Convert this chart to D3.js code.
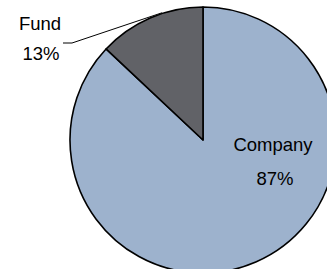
<!DOCTYPE html>
<html>
<head>
<meta charset="utf-8">
<script src="https://cdn.jsdelivr.net/npm/d3@7"></script>
<style>
  body { margin: 0; background: #fff; }
  text { font-family: "Liberation Sans", Arial, sans-serif; font-size: 18.5px; fill: #000; }
</style>
</head>
<body>
<div id="chart"></div>
<script>
var svgWidth = 327;
var svgHeight = 269;

// chart data
var categories = ["Company", "Fund"];
var shares = [87, 13];
var shareLabels = ["87%", "13%"];
var colors = ["#9db2cd", "#616267"];

var cx = 203;
var cy = 140;
var radius = 133;

var svg = d3.select("#chart")
  .append("svg")
  .attr("width", svgWidth)
  .attr("height", svgHeight);

var chartGroup = svg.append("g")
  .attr("transform", `translate(${cx}, ${cy})`);

var data = categories.map(function(c, i) {
  return { name: c, value: shares[i], label: shareLabels[i], color: colors[i] };
});

var pie = d3.pie()
  .sort(null)
  .value(d => d.value);

var arc = d3.arc()
  .innerRadius(0)
  .outerRadius(radius);

var slices = pie(data);

chartGroup.selectAll("path")
  .data(slices)
  .enter()
  .append("path")
  .attr("d", arc)
  .attr("fill", d => d.data.color)
  .attr("stroke", "#000")
  .attr("stroke-width", 1.6)
  .attr("stroke-linejoin", "round");

// Company label sits inside the big slice
var company = slices[0];
var companyLabel = chartGroup.append("text")
  .attr("text-anchor", "middle")
  .attr("y", 11);
companyLabel.append("tspan").attr("x", 70).text(company.data.name);
companyLabel.append("tspan").attr("x", 72).attr("dy", 34).text(company.data.label);

// Fund label outside, with a leader line to the slice edge
var fund = slices[1];
var a = fund.startAngle + 0.62 * (fund.endAngle - fund.startAngle);
var edge = [Math.sin(a) * radius * 1.005, -Math.cos(a) * radius * 1.005];

chartGroup.append("polyline")
  .attr("points", [[63 - cx, 43 - cy], [72 - cx, 43 - cy], edge].join(" "))
  .attr("fill", "none")
  .attr("stroke", "#000")
  .attr("stroke-width", 1);

var fundLabel = chartGroup.append("text")
  .attr("text-anchor", "middle")
  .attr("y", 30 - cy);
fundLabel.append("tspan").attr("x", 40 - cx).text(fund.data.name);
fundLabel.append("tspan").attr("x", 41 - cx).attr("dy", 30).text(fund.data.label);
</script>
</body>
</html>
